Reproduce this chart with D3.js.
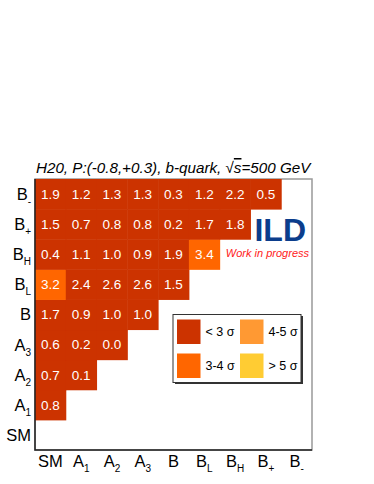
<!DOCTYPE html>
<html>
<head>
<meta charset="utf-8">
<script src="https://cdn.jsdelivr.net/npm/d3@7"></script>
<style>
  body { margin: 0; background: #fff; }
  text { font-family: "Liberation Sans", Arial, sans-serif; }
</style>
</head>
<body>
<script>
// categories, bottom-to-top on y and left-to-right on x
var cats = ["SM", "A1", "A2", "A3", "B", "BL", "BH", "B+", "B-"];
var labelBase = { "SM": "SM", "A1": "A", "A2": "A", "A3": "A", "B": "B", "BL": "B", "BH": "B", "B+": "B", "B-": "B" };
var labelSub = { "SM": "", "A1": "1", "A2": "2", "A3": "3", "B": "", "BL": "L", "BH": "H", "B+": "+", "B-": "-" };

// significance per row (row category -> values for columns SM, A1, ...)
var rowSM = [];
var rowA1 = [0.8];
var rowA2 = [0.7, 0.1];
var rowA3 = [0.6, 0.2, 0.0];
var rowB  = [1.7, 0.9, 1.0, 1.0];
var rowBL = [3.2, 2.4, 2.6, 2.6, 1.5];
var rowBH = [0.4, 1.1, 1.0, 0.9, 1.9, 3.4];
var rowBp = [1.5, 0.7, 0.8, 0.8, 0.2, 1.7, 1.8];
var rowBm = [1.9, 1.2, 1.3, 1.3, 0.3, 1.2, 2.2, 0.5];
var rows = [rowSM, rowA1, rowA2, rowA3, rowB, rowBL, rowBH, rowBp, rowBm];

var legendLabels = ["< 3 σ", "3-4 σ", "4-5 σ", "> 5 σ"];
var legendColors = ["#cc3300", "#ff6600", "#ff9933", "#ffcc33"];
var title = "H20, P:(-0.8,+0.3), b-quark, ";

var W = 374, H = 484;
var svg = d3.select("body").append("svg")
    .attr("width", W)
    .attr("height", H);

var pLeft = 35, pRight = 312, pTop = 179, pBottom = 450;

var x = d3.scaleBand().domain(cats).range([pLeft, pRight]);
var y = d3.scaleBand().domain(cats).range([pBottom, pTop]);

var color = d3.scaleThreshold()
    .domain([3, 4, 5])
    .range(legendColors);

var cells = [];
rows.forEach(function(vals, j) {
  vals.forEach(function(v, i) {
    cells.push({ col: cats[i], row: cats[j], value: v });
  });
});

// frame
svg.append("rect")
    .attr("x", pLeft).attr("y", pTop)
    .attr("width", pRight - pLeft).attr("height", pBottom - pTop)
    .attr("fill", "#fff")
    .attr("stroke", "#999")
    .attr("stroke-width", 1.5);

svg.selectAll(".cell")
    .data(cells)
    .enter()
    .append("rect")
    .attr("class", "cell")
    .attr("x", function(d) { return x(d.col); })
    .attr("y", function(d) { return y(d.row); })
    .attr("width", x.bandwidth() + 0.5)
    .attr("height", y.bandwidth() + 0.5)
    .attr("fill", function(d) { return color(d.value); });

svg.selectAll(".val")
    .data(cells)
    .enter()
    .append("text")
    .attr("class", "val")
    .attr("x", function(d) { return x(d.col) + x.bandwidth() / 2; })
    .attr("y", function(d) { return y(d.row) + y.bandwidth() / 2; })
    .attr("dy", "0.36em")
    .attr("text-anchor", "middle")
    .attr("font-size", "13.5px")
    .attr("fill", "#fff")
    .text(function(d) { return d.value.toFixed(1); });

// dark axis lines on left and bottom
svg.append("path")
    .attr("d", "M" + pLeft + "," + pTop + "V" + pBottom + "H" + pRight)
    .attr("fill", "none")
    .attr("stroke", "#222")
    .attr("stroke-width", 1.5);

function subLabel(sel) {
  sel.each(function(c) {
    var t = d3.select(this);
    t.append("tspan").text(labelBase[c]);
    if (labelSub[c]) {
      t.append("tspan")
          .attr("font-size", "10px")
          .attr("dy", "5")
          .text(labelSub[c]);
    }
  });
}

var yAxis = d3.axisLeft(y).tickSize(0).tickPadding(5).tickFormat("");
var gy = svg.append("g").attr("transform", "translate(" + pLeft + ",0)").call(yAxis);
gy.select(".domain").remove();
gy.selectAll(".tick text").remove();
gy.selectAll(".tick").append("text")
    .attr("x", -4)
    .attr("dy", "0.36em")
    .attr("text-anchor", "end")
    .attr("font-size", "16.5px")
    .attr("fill", "#000")
    .call(subLabel);

var xAxis = d3.axisBottom(x).tickSize(0).tickFormat("");
var gx = svg.append("g").attr("transform", "translate(0," + pBottom + ")").call(xAxis);
gx.select(".domain").remove();
gx.selectAll(".tick text").remove();
gx.selectAll(".tick").append("text")
    .attr("y", 17)
    .attr("text-anchor", "middle")
    .attr("font-size", "16.5px")
    .attr("fill", "#000")
    .call(subLabel);

// title
var tt = svg.append("text")
    .attr("x", 36)
    .attr("y", 173)
    .attr("font-size", "15.2px")
    .attr("font-style", "italic")
    .attr("fill", "#000");
tt.append("tspan").text(title + "√");
tt.append("tspan").attr("text-decoration", "overline").text("s");
tt.append("tspan").text("=500 GeV");

// ILD logo
svg.append("text")
    .attr("x", 306)
    .attr("y", 241)
    .attr("text-anchor", "end")
    .attr("font-size", "32px")
    .attr("font-weight", "bold")
    .attr("fill", "#0b3d8c")
    .text("ILD");
svg.append("text")
    .attr("x", 309)
    .attr("y", 257)
    .attr("text-anchor", "end")
    .attr("font-size", "11px")
    .attr("font-style", "italic")
    .attr("fill", "#ff1a1a")
    .text("Work in progress");

// legend
var lg = svg.append("g");
lg.append("rect")
    .attr("x", 175).attr("y", 316)
    .attr("width", 128).attr("height", 68)
    .attr("fill", "#333");
lg.append("rect")
    .attr("x", 173).attr("y", 314.5)
    .attr("width", 128).attr("height", 68)
    .attr("fill", "#fff")
    .attr("stroke", "#333")
    .attr("stroke-width", 1);

var legendPos = [[177, 319.5], [177, 353.5], [240, 319.5], [240, 353.5]];
legendLabels.forEach(function(lab, i) {
  lg.append("rect")
      .attr("x", legendPos[i][0]).attr("y", legendPos[i][1])
      .attr("width", 23.5).attr("height", 24.5)
      .attr("fill", legendColors[i]);
  lg.append("text")
      .attr("x", legendPos[i][0] + 28.5)
      .attr("y", legendPos[i][1] + 16.5)
      .attr("font-size", "12.5px")
      .attr("fill", "#000")
      .text(lab);
});
</script>
</body>
</html>
